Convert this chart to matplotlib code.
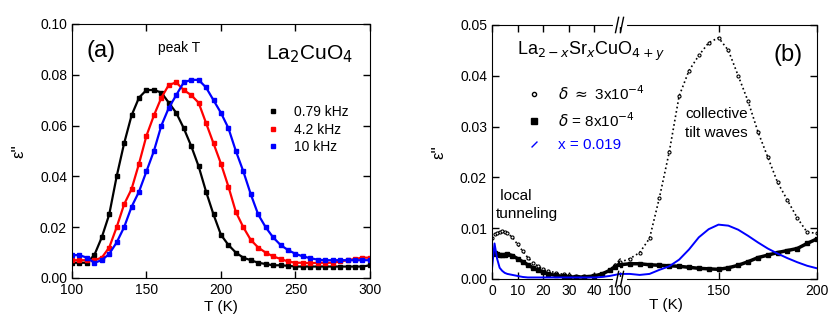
import matplotlib
matplotlib.use("Agg")
import matplotlib.pyplot as plt
from matplotlib.lines import Line2D

plt.rcParams['font.family'] = ['Liberation Sans', 'DejaVu Sans']
plt.rcParams['xtick.direction'] = 'in'
plt.rcParams['ytick.direction'] = 'in'

# ---- panel (a): La2CuO4, three frequencies ----
T_a = [100, 105, 110, 115, 120, 125, 130, 135, 140, 145, 150, 155, 160, 165, 170,
       175, 180, 185, 190, 195, 200, 205, 210, 215, 220, 225, 230, 235, 240, 245,
       250, 255, 260, 265, 270, 275, 280, 285, 290, 295, 300]
eps_079 = [0.006, 0.006, 0.006, 0.009, 0.016, 0.025, 0.040, 0.053, 0.064, 0.071,
           0.074, 0.074, 0.073, 0.069, 0.065, 0.059, 0.052, 0.044, 0.034, 0.025,
           0.017, 0.013, 0.010, 0.008, 0.007, 0.006, 0.0055, 0.005, 0.005, 0.0048,
           0.0045, 0.0045, 0.0045, 0.0045, 0.0045, 0.0045, 0.0045, 0.0045, 0.0045,
           0.0045, 0.005]
eps_42 = [0.007, 0.007, 0.007, 0.007, 0.008, 0.012, 0.020, 0.029, 0.035, 0.045,
          0.056, 0.064, 0.071, 0.076, 0.077, 0.074, 0.072, 0.069, 0.061, 0.053,
          0.045, 0.036, 0.026, 0.020, 0.015, 0.012, 0.010, 0.0085, 0.0075, 0.0065,
          0.006, 0.006, 0.0058, 0.006, 0.006, 0.006, 0.0065, 0.007, 0.0075, 0.008,
          0.008]
eps_10 = [0.009, 0.009, 0.008, 0.006, 0.007, 0.0095, 0.014, 0.020, 0.028, 0.034,
          0.042, 0.050, 0.060, 0.067, 0.072, 0.077, 0.078, 0.078, 0.075, 0.070,
          0.065, 0.059, 0.050, 0.042, 0.033, 0.025, 0.020, 0.016, 0.013, 0.011,
          0.0095, 0.0085, 0.0078, 0.0072, 0.007, 0.007, 0.007, 0.007, 0.007, 0.007,
          0.007]
labels_a = ['0.79 kHz', '4.2 kHz', '10 kHz']

# ---- panel (b): La2-xSrxCuO4+y, broken T axis ----
T_low = [0, 1, 2, 3, 4, 5, 6, 8, 10, 12, 14, 16, 18, 20, 22, 25, 28, 30, 33, 36,
         40, 43, 46, 48, 50]
d3_low = [0.008, 0.0088, 0.009, 0.0093, 0.0095, 0.0093, 0.009, 0.0082, 0.0068,
          0.0055, 0.0042, 0.0032, 0.0025, 0.002, 0.0016, 0.0012, 0.0009, 0.0007,
          0.0006, 0.0006, 0.0007, 0.001, 0.0018, 0.0028, 0.0038]
d8_low = [0.005, 0.0052, 0.005, 0.0048, 0.0047, 0.0048, 0.0049, 0.0046, 0.004,
          0.0034, 0.0028, 0.0022, 0.0017, 0.0013, 0.001, 0.0007, 0.0005, 0.0004,
          0.0004, 0.0004, 0.0006, 0.001, 0.0017, 0.0024, 0.003]
x019_low = [0.002, 0.007, 0.004, 0.0022, 0.0016, 0.0012, 0.001, 0.0008, 0.0006,
            0.0004, 0.0003, 0.0003, 0.0003, 0.0003, 0.0003, 0.0003, 0.0003, 0.0003,
            0.0003, 0.0003, 0.0003, 0.0004, 0.0006, 0.0008, 0.001]
T_high = [100, 105, 110, 115, 120, 125, 130, 135, 140, 145, 150, 155, 160, 165,
          170, 175, 180, 185, 190, 195, 200]
d3_high = [0.0033, 0.004, 0.0052, 0.008, 0.016, 0.025, 0.036, 0.041, 0.044, 0.0465,
           0.0475, 0.045, 0.040, 0.035, 0.029, 0.024, 0.019, 0.0155, 0.012, 0.0092,
           0.009]
d8_high = [0.0028, 0.003, 0.003, 0.0028, 0.0027, 0.0026, 0.0025, 0.0023, 0.0021,
           0.002, 0.0019, 0.0022, 0.0027, 0.0034, 0.0042, 0.0047, 0.0052, 0.0056,
           0.006, 0.007, 0.0079]
x019_high = [0.001, 0.001, 0.0008, 0.001, 0.0018, 0.0025, 0.0038, 0.0058, 0.0082,
             0.0098, 0.0107, 0.0105, 0.0097, 0.0085, 0.0072, 0.006, 0.005, 0.0041,
             0.0033, 0.0026, 0.0021]
labels_b = [r'$\delta$ $\approx$ 3x10$^{-4}$', r'$\delta$ = 8x10$^{-4}$', 'x = 0.019']

fig = plt.figure(figsize=(8.33, 3.34), dpi=100)

# (a)
ax = fig.add_axes([0.0864, 0.1677, 0.3577, 0.7605])
cols = ['black', 'red', 'blue']
for ys, c, lab in zip([eps_079, eps_42, eps_10], cols, labels_a):
    ax.plot(T_a, ys, '-s', color=c, lw=1.6, ms=2.2, label=lab)
ax.set_xlim(100, 300)
ax.set_ylim(0, 0.10)
ax.set_xticks([100, 150, 200, 250, 300])
ax.set_yticks([0, 0.02, 0.04, 0.06, 0.08, 0.10])
ax.set_yticklabels(['0.00', '0.02', '0.04', '0.06', '0.08', '0.10'])
ax.tick_params(top=True, right=True, labelsize=10, length=5, width=1)
ax.set_xlabel('T (K)', fontsize=11, labelpad=2)
ax.set_ylabel("ε''", fontsize=12, labelpad=10)
ax.text(0.05, 0.87, '(a)', transform=ax.transAxes, fontsize=17)
ax.text(0.29, 0.89, 'peak T', transform=ax.transAxes, fontsize=10)
ax.text(0.65, 0.86, r'La$_2$CuO$_4$', transform=ax.transAxes, fontsize=15)
leg = ax.legend(loc='upper left', bbox_to_anchor=(0.62, 0.73), frameon=False,
                fontsize=10, handlelength=0.6, handletextpad=1.2, labelspacing=0.25)
for h in leg.legend_handles:
    h.set_linestyle('none')
    h.set_markersize(3)

# (b) broken axis, two parts
axL = fig.add_axes([0.5906, 0.1647, 0.1537, 0.7605])
axR = fig.add_axes([0.7443, 0.1647, 0.2365, 0.7605])
for a, T, d3, d8, xb in [(axL, T_low, d3_low, d8_low, x019_low),
                         (axR, T_high, d3_high, d8_high, x019_high)]:
    a.plot(T, d3, ':o', color='black', mfc='white', ms=2.2, lw=1.2, mew=0.8)
    a.plot(T, d8, '-s', color='black', ms=2.5, lw=2.5)
    a.plot(T, xb, '-', color='blue', lw=1.4)
    a.set_ylim(0, 0.05)
    a.tick_params(top=True, right=True, labelsize=10, length=5, width=1)

axL.set_xlim(0, 50)
axL.set_xticks([0, 10, 20, 30, 40])
axL.set_yticks([0, 0.01, 0.02, 0.03, 0.04, 0.05])
axL.set_yticklabels(['0.00', '0.01', '0.02', '0.03', '0.04', '0.05'])
axL.tick_params(right=False)
axL.spines['right'].set_visible(False)
axL.set_ylabel("ε''", fontsize=12, labelpad=10)

axR.set_xlim(100, 200)
axR.set_xticks([100, 150, 200])
axR.set_yticks([0, 0.01, 0.02, 0.03, 0.04, 0.05])
axR.tick_params(left=False, labelleft=False)
axR.spines['left'].set_visible(False)
axR.patch.set_visible(False)

# break marks "//" on top and bottom spines
for yy in (0.0, 1.0):
    axR.plot([-0.025, 0.025], [yy, yy], color='white', lw=3,
             transform=axR.transAxes, clip_on=False, zorder=5)
    for dx in (-0.015, 0.01):
        axR.plot([dx - 0.008, dx + 0.008], [yy - 0.03, yy + 0.03], color='black',
                 lw=1, transform=axR.transAxes, clip_on=False, zorder=6)

fig.text(0.80, 0.075, 'T (K)', fontsize=11, ha='center')
fig.text(0.621, 0.835, r'La$_{2-x}$Sr$_x$CuO$_{4+y}$', fontsize=13)
axR.text(0.78, 0.86, '(b)', transform=axR.transAxes, fontsize=17)
axR.text(0.33, 0.56, 'collective\ntilt waves', transform=axR.transAxes,
         fontsize=11, linespacing=1.4)
axL.text(0.03, 0.24, ' local\ntunneling', transform=axL.transAxes,
         fontsize=11, linespacing=1.4)

handles_b = [Line2D([], [], ls='none', marker='o', mfc='white', mec='black', ms=3),
             Line2D([], [], ls='none', marker='s', color='black', ms=4),
             Line2D([], [], ls='none', marker=(2, 0, -45), color='blue', ms=6)]
lb = fig.legend(handles_b, labels_b, loc='upper left', bbox_to_anchor=(0.617, 0.79),
                frameon=False, fontsize=11, handlelength=0.8, handletextpad=1.2,
                labelspacing=0.55)
lb.get_texts()[2].set_color('blue')

fig.savefig('out.png', dpi=100)
